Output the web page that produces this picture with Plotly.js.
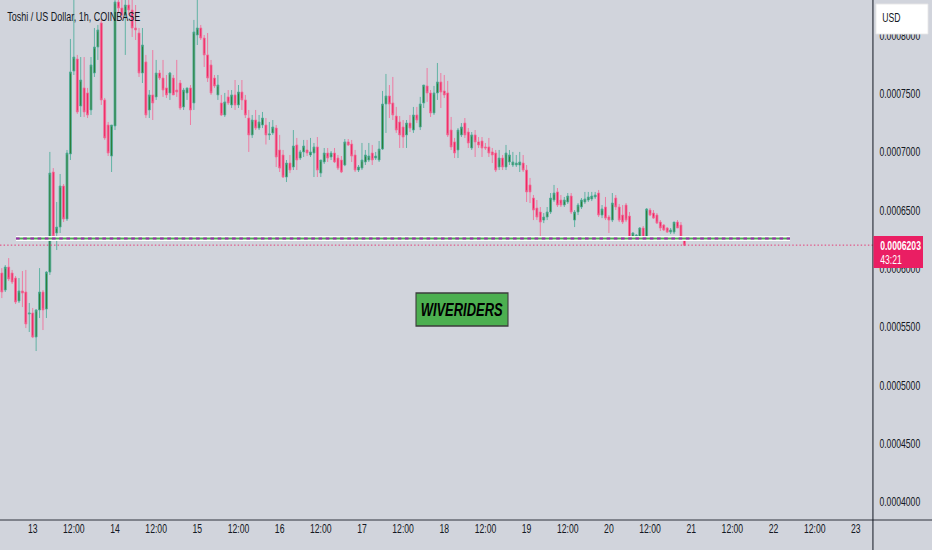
<!DOCTYPE html>
<html><head><meta charset="utf-8">
<script src="https://cdn.plot.ly/plotly-3.0.1.min.js"></script>
<style>
html,body{margin:0;padding:0;background:#d1d4dc;overflow:hidden;}
#wrap{width:932px;height:550px;overflow:hidden;position:relative;}
#chart{width:1294px;height:550px;transform-origin:0 0;}
</style>
</head><body><div id="wrap"><div id="chart"></div></div>
<script>
// Toshi / US Dollar, 1h, COINBASE — hourly candles from 12th 15:00 to 20th 22:00
const firstCandleUTC = [2024, 10, 12, 15];
const open = [0.0005964,0.0005818,0.0006015,0.0005964,0.0005921,0.0005724,0.0005810,0.0005801,0.0005612,0.0005621,
0.0005415,0.0005647,0.0005801,0.0005655,0.0005972,0.0006830,0.0006307,0.0006358,0.0006710,0.0006427,
0.0006985,0.0007696,0.0007799,0.0007396,0.0007551,0.0007508,0.0007362,0.0007679,0.0007902,0.0008108,
0.0007448,0.0007233,0.0006967,0.0007225,0.0008288,0.0008236,0.0008176,0.0008262,0.0008219,0.0008065,
0.0008022,0.0007679,0.0007774,0.0007362,0.0007491,0.0007474,0.0007679,0.0007636,0.0007551,0.0007508,
0.0007636,0.0007533,0.0007593,0.0007388,0.0007508,0.0007551,0.0007422,0.0008005,0.0008065,0.0007979,
0.0007834,0.0007748,0.0007636,0.0007491,0.0007422,0.0007319,0.0007474,0.0007405,0.0007491,0.0007405,
0.0007516,0.0007448,0.0007293,0.0007148,0.0007276,0.0007207,0.0007233,0.0007233,0.0007148,0.0007165,
0.0007207,0.0007019,0.0006976,0.0006787,0.0006907,0.0006873,0.0007062,0.0006950,0.0007002,0.0007019,
0.0006976,0.0006993,0.0007045,0.0006821,0.0006916,0.0006993,0.0006959,0.0006993,0.0006950,0.0006933,
0.0006890,0.0007088,0.0007070,0.0006976,0.0006847,0.0006864,0.0006916,0.0006933,0.0006993,0.0006950,
0.0006933,0.0007027,0.0007413,0.0007482,0.0007422,0.0007310,0.0007259,0.0007216,0.0007148,0.0007250,
0.0007190,0.0007319,0.0007216,0.0007422,0.0007568,0.0007508,0.0007336,0.0007508,0.0007602,0.0007525,
0.0007508,0.0007190,0.0007088,0.0007019,0.0007148,0.0007250,0.0007173,0.0007036,0.0007148,0.0007088,
0.0007096,0.0007045,0.0007045,0.0007002,0.0006993,0.0006873,0.0006950,0.0006873,0.0006916,0.0006890,
0.0006890,0.0006890,0.0006907,0.0006847,0.0006719,0.0006607,0.0006521,0.0006487,0.0006418,0.0006444,
0.0006487,0.0006590,0.0006659,0.0006590,0.0006547,0.0006573,0.0006624,0.0006418,0.0006487,0.0006530,
0.0006573,0.0006590,0.0006599,0.0006616,0.0006650,0.0006461,0.0006530,0.0006444,0.0006418,0.0006607,
0.0006530,0.0006461,0.0006547,0.0006452,0.0006264,0.0006264,0.0006264,0.0006350,0.0006264,0.0006504,
0.0006478,0.0006461,0.0006401,0.0006375,0.0006350,0.0006315,0.0006315,0.0006401,0.0006375,0.0006264];
const high = [0.0006006,0.0006032,0.0006092,0.0005990,0.0005938,0.0005921,0.0005981,0.0005990,0.0005707,0.0005664,
0.0005655,0.0006006,0.0005818,0.0005980,0.0007002,0.0006864,0.0006573,0.0006813,0.0006727,0.0007019,
0.0007971,0.0008348,0.0007834,0.0007816,0.0007816,0.0007551,0.0007816,0.0008065,0.0008091,0.0008134,
0.0007465,0.0007259,0.0007233,0.0008434,0.0008408,0.0008348,0.0008374,0.0008331,0.0008305,0.0008262,
0.0008065,0.0008065,0.0007834,0.0007533,0.0007876,0.0007791,0.0007705,0.0007791,0.0007662,0.0007688,
0.0007662,0.0007791,0.0007619,0.0007551,0.0007551,0.0007576,0.0008134,0.0008305,0.0008091,0.0008005,
0.0008022,0.0007791,0.0007662,0.0007662,0.0007491,0.0007508,0.0007533,0.0007533,0.0007619,0.0007576,
0.0007619,0.0007491,0.0007362,0.0007319,0.0007362,0.0007319,0.0007345,0.0007293,0.0007259,0.0007276,
0.0007233,0.0007148,0.0007019,0.0006933,0.0006976,0.0007190,0.0007122,0.0007019,0.0007105,0.0007105,
0.0007122,0.0007079,0.0007130,0.0006933,0.0007036,0.0007036,0.0007010,0.0007036,0.0006976,0.0006967,
0.0007113,0.0007113,0.0007105,0.0007019,0.0006890,0.0007079,0.0007019,0.0007079,0.0007062,0.0007002,
0.0007096,0.0007525,0.0007671,0.0007576,0.0007645,0.0007388,0.0007310,0.0007276,0.0007276,0.0007319,
0.0007388,0.0007388,0.0007474,0.0007576,0.0007722,0.0007533,0.0007568,0.0007765,0.0007679,0.0007662,
0.0007611,0.0007302,0.0007122,0.0007207,0.0007250,0.0007293,0.0007207,0.0007173,0.0007190,0.0007130,
0.0007130,0.0007079,0.0007122,0.0007036,0.0007019,0.0007019,0.0006976,0.0007062,0.0007019,0.0007002,
0.0006976,0.0007002,0.0006976,0.0006890,0.0006779,0.0006633,0.0006590,0.0006530,0.0006478,0.0006530,
0.0006650,0.0006719,0.0006693,0.0006633,0.0006616,0.0006650,0.0006650,0.0006504,0.0006564,0.0006607,
0.0006659,0.0006659,0.0006659,0.0006659,0.0006676,0.0006547,0.0006616,0.0006461,0.0006650,0.0006633,
0.0006556,0.0006547,0.0006564,0.0006487,0.0006315,0.0006298,0.0006358,0.0006367,0.0006521,0.0006521,
0.0006504,0.0006478,0.0006418,0.0006384,0.0006358,0.0006350,0.0006401,0.0006418,0.0006401,0.0006281];
const low = [0.0005749,0.0005801,0.0005895,0.0005870,0.0005698,0.0005707,0.0005672,0.0005492,0.0005458,0.0005406,
0.0005295,0.0005578,0.0005475,0.0005578,0.0005947,0.0006264,0.0006161,0.0006307,0.0006401,0.0006410,
0.0006933,0.0007662,0.0007328,0.0007302,0.0007302,0.0007293,0.0007319,0.0007645,0.0007791,0.0007405,
0.0007105,0.0006967,0.0006830,0.0007190,0.0008202,0.0008134,0.0007834,0.0008176,0.0007988,0.0007962,
0.0007645,0.0007593,0.0007293,0.0007293,0.0007276,0.0007448,0.0007619,0.0007474,0.0007465,0.0007448,
0.0007491,0.0007474,0.0007362,0.0007362,0.0007448,0.0007233,0.0007362,0.0007919,0.0007962,0.0007731,
0.0007602,0.0007491,0.0007551,0.0007448,0.0007310,0.0007302,0.0007405,0.0007379,0.0007362,0.0007379,
0.0007362,0.0007293,0.0007002,0.0007122,0.0007190,0.0007190,0.0007207,0.0007066,0.0007105,0.0007148,
0.0006873,0.0006830,0.0006779,0.0006744,0.0006821,0.0006847,0.0006847,0.0006933,0.0006959,0.0006967,
0.0006959,0.0006787,0.0006787,0.0006787,0.0006899,0.0006916,0.0006933,0.0006907,0.0006847,0.0006821,
0.0006880,0.0007053,0.0006916,0.0006830,0.0006830,0.0006847,0.0006890,0.0006916,0.0006890,0.0006933,
0.0006916,0.0007019,0.0007165,0.0007293,0.0007276,0.0007165,0.0007036,0.0007036,0.0007036,0.0007173,
0.0007165,0.0007250,0.0007190,0.0007379,0.0007431,0.0007302,0.0007319,0.0007448,0.0007379,0.0007465,
0.0007130,0.0007019,0.0006950,0.0006950,0.0007130,0.0007122,0.0007036,0.0007019,0.0006959,0.0007036,
0.0006959,0.0007019,0.0006959,0.0006907,0.0006830,0.0006847,0.0006847,0.0006847,0.0006890,0.0006873,
0.0006873,0.0006830,0.0006830,0.0006573,0.0006564,0.0006418,0.0006418,0.0006255,0.0006392,0.0006418,
0.0006470,0.0006573,0.0006530,0.0006530,0.0006530,0.0006556,0.0006470,0.0006358,0.0006461,0.0006513,
0.0006556,0.0006573,0.0006581,0.0006599,0.0006444,0.0006435,0.0006418,0.0006307,0.0006401,0.0006504,
0.0006401,0.0006384,0.0006401,0.0006247,0.0006247,0.0006247,0.0006247,0.0006247,0.0006247,0.0006452,
0.0006427,0.0006384,0.0006324,0.0006324,0.0006307,0.0006298,0.0006298,0.0006350,0.0006264,0.0006195];
const close = [0.0005801,0.0006015,0.0005913,0.0005887,0.0005715,0.0005810,0.0005792,0.0005527,0.0005621,0.0005415,
0.0005647,0.0005801,0.0005647,0.0005972,0.0006821,0.0006281,0.0006358,0.0006710,0.0006427,0.0006993,
0.0007688,0.0007816,0.0007345,0.0007619,0.0007345,0.0007319,0.0007748,0.0007902,0.0008048,0.0007448,
0.0007122,0.0006993,0.0007233,0.0008288,0.0008236,0.0008176,0.0008262,0.0008219,0.0008065,0.0008048,
0.0007679,0.0007919,0.0007319,0.0007491,0.0007422,0.0007679,0.0007636,0.0007533,0.0007491,0.0007679,
0.0007491,0.0007516,0.0007379,0.0007533,0.0007551,0.0007362,0.0008031,0.0008065,0.0007979,0.0007834,
0.0007636,0.0007508,0.0007568,0.0007576,0.0007319,0.0007431,0.0007422,0.0007491,0.0007405,0.0007516,
0.0007448,0.0007319,0.0007148,0.0007276,0.0007207,0.0007259,0.0007293,0.0007148,0.0007156,0.0007216,
0.0006959,0.0006864,0.0006787,0.0006907,0.0006847,0.0007053,0.0006933,0.0007002,0.0007053,0.0006993,
0.0007002,0.0007045,0.0006847,0.0006933,0.0006993,0.0006950,0.0006993,0.0006916,0.0006864,0.0006830,
0.0007088,0.0007062,0.0006967,0.0006847,0.0006873,0.0006933,0.0006976,0.0006967,0.0006933,0.0006967,
0.0007027,0.0007413,0.0007482,0.0007413,0.0007319,0.0007190,0.0007148,0.0007130,0.0007250,0.0007207,
0.0007319,0.0007276,0.0007413,0.0007576,0.0007508,0.0007336,0.0007508,0.0007602,0.0007516,0.0007491,
0.0007148,0.0007045,0.0006993,0.0007190,0.0007216,0.0007148,0.0007079,0.0007148,0.0007088,0.0007062,
0.0007036,0.0007036,0.0006993,0.0006976,0.0006847,0.0006950,0.0006873,0.0006993,0.0006976,0.0006916,
0.0006907,0.0006916,0.0006847,0.0006659,0.0006659,0.0006504,0.0006444,0.0006401,0.0006444,0.0006487,
0.0006607,0.0006650,0.0006547,0.0006547,0.0006590,0.0006624,0.0006487,0.0006487,0.0006547,0.0006590,
0.0006599,0.0006616,0.0006624,0.0006633,0.0006461,0.0006513,0.0006435,0.0006418,0.0006564,0.0006530,
0.0006418,0.0006401,0.0006418,0.0006264,0.0006307,0.0006290,0.0006350,0.0006264,0.0006513,0.0006461,
0.0006435,0.0006392,0.0006350,0.0006333,0.0006315,0.0006333,0.0006401,0.0006350,0.0006264,0.0006203];

const tickVals = ['2024-11-13 00:00','2024-11-13 12:00','2024-11-14 00:00','2024-11-14 12:00','2024-11-15 00:00','2024-11-15 12:00',
'2024-11-16 00:00','2024-11-16 12:00','2024-11-17 00:00','2024-11-17 12:00','2024-11-18 00:00','2024-11-18 12:00',
'2024-11-19 00:00','2024-11-19 12:00','2024-11-20 00:00','2024-11-20 12:00','2024-11-21 00:00','2024-11-21 12:00',
'2024-11-22 00:00','2024-11-22 12:00','2024-11-23 00:00'];
const tickText = ['13','12:00','14','12:00','15','12:00','16','12:00','17','12:00','18','12:00','19','12:00','20','12:00','21','12:00','22','12:00','23'];
const yTicks = [0.0004, 0.00045, 0.0005, 0.00055, 0.0006, 0.00065, 0.0007, 0.00075, 0.0008];
const levelPrice = 0.000626;
const levelFrom = '2024-11-12 19:08', levelTo = '2024-11-22 04:48';
const countdown = '43:21';
const titleText = 'Toshi / US Dollar, 1h, COINBASE';
const watermark = 'WIVERIDERS';

const times = open.map((_, i) => {
  const d = new Date(Date.UTC(firstCandleUTC[0], firstCandleUTC[1], firstCandleUTC[2], firstCandleUTC[3] + i));
  return d.toISOString().slice(0, 16).replace('T', ' ');
});
const lastClose = close[close.length - 1];

// The reference is horizontally condensed: draw wider, then condense on screen.
const OUT_W = 932, H = 550, S = 0.7202;
const W = Math.round(OUT_W / S);
const MR = W - Math.round(873 / S), MB = 30;
const PW = W - MR, PH = H - MB;
document.getElementById('chart').style.width = W + 'px';
document.getElementById('chart').style.transform = 'scaleX(' + (OUT_W / W) + ')';
const px = x => (x / (OUT_W / W)) / PW;
const py = y => 1 - y / PH;
const FONT = '"Liberation Sans", Arial, sans-serif';
const INK = '#131722';

const candles = {
  type: 'candlestick', x: times, open: open, high: high, low: low, close: close,
  increasing: {line: {color: '#4fae9b', width: 1}, fillcolor: '#277a2e'},
  decreasing: {line: {color: '#f26d98', width: 1}, fillcolor: '#ee1f5c'},
  whiskerwidth: 0, hoverinfo: 'skip'
};

const shapes = [
  {type: 'line', xref: 'x', yref: 'y', x0: levelFrom, x1: levelTo, y0: levelPrice, y1: levelPrice, line: {color: 'rgba(255,255,255,0.95)', width: 5}, layer: 'above'},
  {type: 'line', xref: 'x', yref: 'y', x0: levelFrom, x1: levelTo, y0: levelPrice, y1: levelPrice, line: {color: '#4caf50', width: 2}, layer: 'above'},
  {type: 'line', xref: 'x', yref: 'y', x0: levelFrom, x1: levelTo, y0: levelPrice, y1: levelPrice, line: {color: '#9c27b0', width: 2, dash: '5px,5px'}, layer: 'above'},
  {type: 'line', xref: 'paper', yref: 'y', x0: 0, x1: 1, y0: lastClose, y1: lastClose, line: {color: '#e91e63', width: 1, dash: '2px,3px'}, layer: 'above'},
  {type: 'line', xref: 'paper', yref: 'paper', x0: 0, x1: W / PW, y0: 0, y1: 0, line: {color: INK, width: 1}, layer: 'above'},
  {type: 'line', xref: 'paper', yref: 'paper', x0: 1, x1: 1, y0: -MB / PH, y1: 1, line: {color: INK, width: 1.4}, layer: 'above'},
  {type: 'rect', xref: 'paper', yref: 'paper', x0: px(416), x1: px(508), y0: py(326), y1: py(293), fillcolor: '#4caf50', line: {color: '#3c3c3c', width: 1.5}, layer: 'above'},
  {type: 'rect', xref: 'paper', yref: 'paper', x0: px(873.5), x1: px(923), y0: py(268), y1: py(236), fillcolor: '#ea1e63', line: {width: 0}, layer: 'above'},
  {type: 'rect', xref: 'paper', yref: 'paper', x0: px(876), x1: px(928), y0: py(34), y1: py(4), fillcolor: '#ffffff', line: {color: '#e6e6e6', width: 1}, layer: 'above'}
];

const annotations = [
  {xref: 'paper', yref: 'paper', x: px(6), y: py(17), xanchor: 'left', yanchor: 'middle', showarrow: false, text: titleText, font: {family: FONT, size: 12.5, color: INK}},
  {xref: 'paper', yref: 'paper', x: px(462), y: py(310), xanchor: 'center', yanchor: 'middle', showarrow: false, text: '<b><i>' + watermark + '</i></b>', font: {family: FONT, size: 18, color: '#000000'}},
  {xref: 'paper', yref: 'paper', x: px(878.5), y: py(246), xanchor: 'left', yanchor: 'middle', showarrow: false, text: '<b>' + lastClose.toFixed(7) + '</b>', font: {family: FONT, size: 12, color: '#ffffff'}},
  {xref: 'paper', yref: 'paper', x: px(878.5), y: py(260), xanchor: 'left', yanchor: 'middle', showarrow: false, text: countdown, font: {family: FONT, size: 12, color: '#ffffff'}},
  {xref: 'paper', yref: 'paper', x: px(881), y: py(18), xanchor: 'left', yanchor: 'middle', showarrow: false, text: 'USD', font: {family: FONT, size: 12, color: INK}}
];

const layout = {
  width: W, height: H, margin: {l: 0, r: MR, t: 0, b: MB, pad: 0},
  paper_bgcolor: '#d1d4dc', plot_bgcolor: '#d1d4dc', showlegend: false, boxgap: 0.22,
  xaxis: {type: 'date', range: ['2024-11-12 14:28', '2024-11-23 04:59'], rangeslider: {visible: false},
    showgrid: false, zeroline: false, showline: false, ticks: '', tickvals: tickVals, ticktext: tickText,
    tickfont: {family: FONT, size: 12, color: INK}, fixedrange: true},
  yaxis: {side: 'right', range: [0.0003846, 0.0008305], tickvals: yTicks, tickformat: '.7f',
    showgrid: false, zeroline: false, showline: false, ticks: '', ticklabelstandoff: 8,
    tickfont: {family: FONT, size: 12, color: INK}, fixedrange: true},
  shapes: shapes, annotations: annotations
};

Plotly.newPlot('chart', [candles], layout, {staticPlot: true, displayModeBar: false});
</script></body></html>
